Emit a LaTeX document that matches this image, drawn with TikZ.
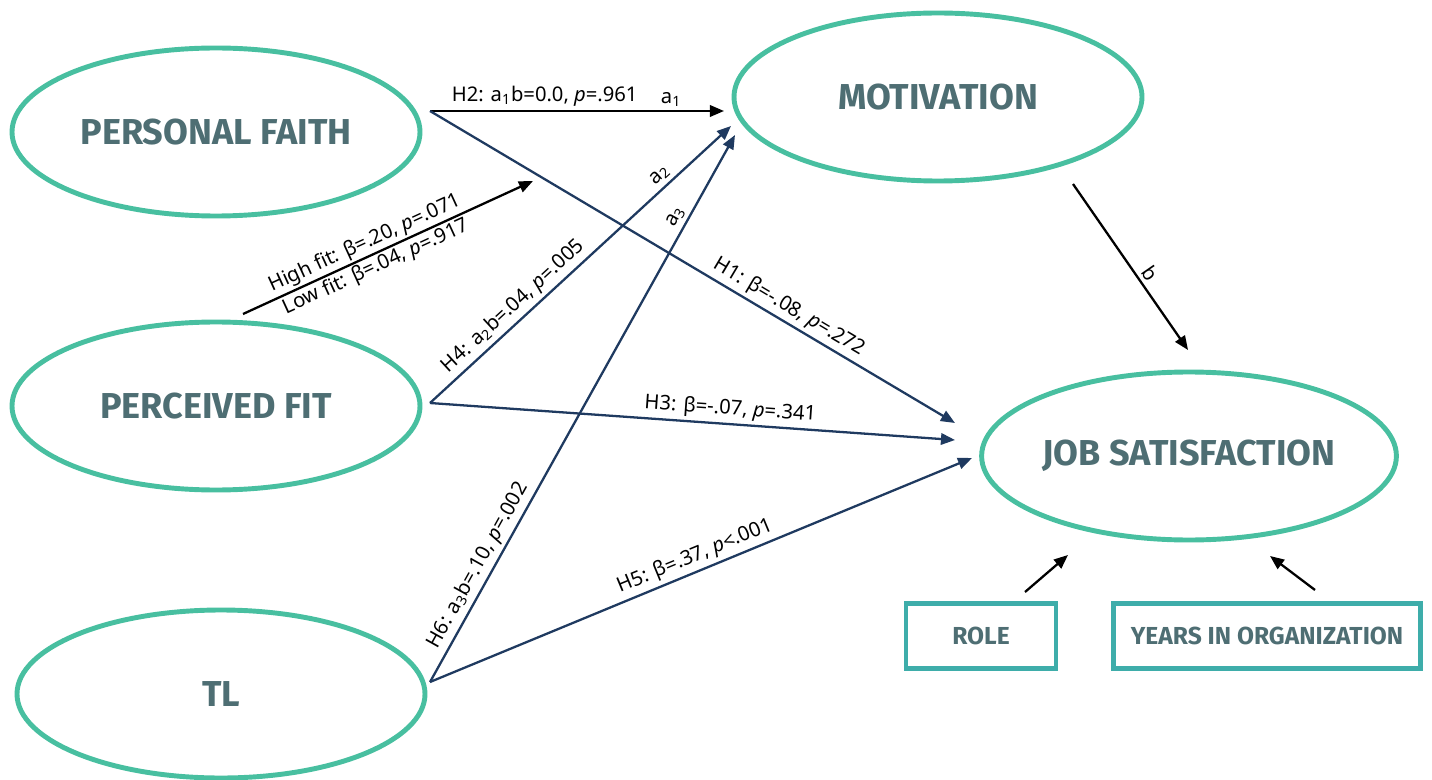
\documentclass[tikz,border=0pt]{standalone}
\usepackage{fontspec}
\setmainfont{Noto Sans}
\newfontfamily\headfont{Fira Sans}
\usetikzlibrary{arrows.meta}
\definecolor{ellc}{HTML}{48BFA0}
\definecolor{boxc}{HTML}{3EADAA}
\definecolor{headc}{HTML}{4E6E73}
\definecolor{navy}{HTML}{1F3A60}
\tikzset{
  latent/.style={ellipse, draw=ellc, line width=2.8pt, minimum width=408\px, minimum height=168\px, inner sep=0pt, font=\headfont\bfseries\fontsize{20.5}{24}\selectfont, text=headc},
  ctrl/.style={rectangle, draw=boxc, line width=2.4pt, minimum height=65\px, inner sep=0pt, font=\headfont\bfseries\fontsize{14}{17}\selectfont, text=headc},
  blk/.style={draw=black, line width=1.3pt, -{Triangle[length=8pt,width=6.5pt]}},
  nav/.style={draw=navy, line width=1.3pt, -{Triangle[length=8pt,width=6.5pt]}},
  lab/.style={font=\fontsize{11.5}{13}\selectfont, inner sep=2pt}
}
\newlength{\px}
\setlength{\px}{0.02cm}
\usetikzlibrary{shapes.geometric}
\begin{document}
\begin{tikzpicture}[x=0.02cm,y=-0.02cm]
\useasboundingbox (0,0) rectangle (1432,780);
% latent variables
\node[latent] (pf) at (216,132) {PERSONAL FAITH};
\node[latent] (fit) at (216,406) {PERCEIVED FIT};
\node[latent] (tl) at (221,694) {TL};
\node[latent] (mot) at (938,97) {MOTIVATION};
\node[latent] (js) at (1189,456) {JOB SATISFACTION};
% controls
\node[ctrl, minimum width=150\px] (role) at (981,636) {ROLE};
\node[ctrl, minimum width=307\px] (years) at (1267,636) {YEARS IN ORGANIZATION};
% connector end points
\coordinate (pfo) at (430,111);
\coordinate (fito) at (430,403);
\coordinate (tlo) at (430,682);
\coordinate (mota) at (724,111);
\coordinate (motb) at (731,126);
\coordinate (motc) at (735,135);
\coordinate (jsa) at (955,423);
\coordinate (jsb) at (955,440);
\coordinate (jsc) at (972,458);
\coordinate (mod0) at (243,314);
\coordinate (mod1) at (533,181);
\coordinate (moto) at (1073,184);
\coordinate (jsd) at (1188,350);
\coordinate (roleo) at (1025,592);
\coordinate (jse) at (1068,555);
\coordinate (yearso) at (1315,590);
\coordinate (jsf) at (1270,556);
% paths
\draw[blk] (pfo) -- (mota)
  node[lab, pos=0.39, above] {H2: a\textsubscript{1}b=0.0, \textit{p}=.961}
  node[lab, pos=0.82, above] {a\textsubscript{1}};
\draw[nav] (pfo) -- (jsa)
  node[lab, pos=0.67, above, sloped] {H1: β=-.08, \textit{p}=.272};
\draw[blk] (mod0) -- (mod1)
  node[lab, pos=0.44, above, sloped, inner sep=1pt] {High fit: β=.20, \textit{p}=.071}
  node[lab, pos=0.44, below, sloped, inner sep=1pt] {Low fit: β=.04, \textit{p}=.917};
\draw[nav] (fito) -- (motb)
  node[lab, pos=0.31, above, sloped] {H4: a\textsubscript{2}b=.04, \textit{p}=.005}
  node[lab, pos=0.79, above, sloped] {a\textsubscript{2}};
\draw[nav] (fito) -- (jsb)
  node[lab, pos=0.57, above, sloped] {H3: β=-.07, \textit{p}=.341};
\draw[nav] (tlo) -- (motc)
  node[lab, pos=0.20, above, sloped] {H6: a\textsubscript{3}b=.10, \textit{p}=.002}
  node[lab, pos=0.84, above, sloped] {a\textsubscript{3}};
\draw[nav] (tlo) -- (jsc)
  node[lab, pos=0.50, above, sloped] {H5: β=.37, \textit{p}<.001};
\draw[blk] (moto) -- (jsd)
  node[lab, pos=0.58, above, sloped] {b};
\draw[blk] (roleo) -- (jse);
\draw[blk] (yearso) -- (jsf);
\end{tikzpicture}
\end{document}
